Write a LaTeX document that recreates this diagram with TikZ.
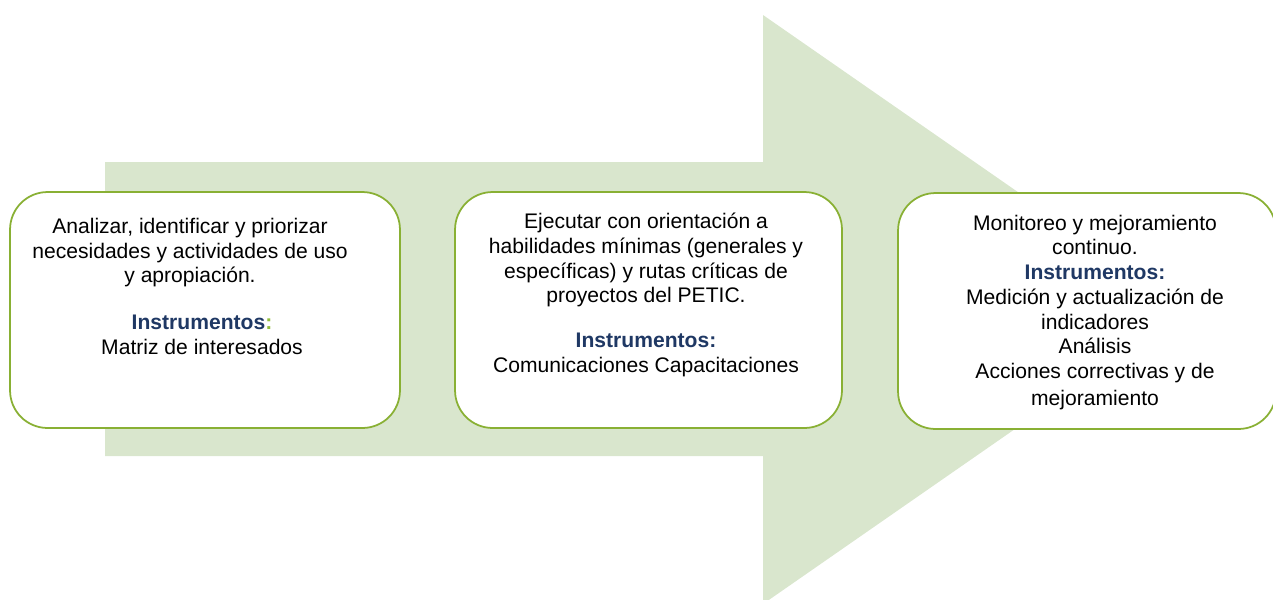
\documentclass[tikz,border=0pt]{standalone}
\usepackage{fontspec}
\setmainfont{Liberation Sans}
\definecolor{shaftgreen}{RGB}{217,230,205}
\definecolor{framegreen}{RGB}{137,176,52}
\definecolor{instrblue}{RGB}{31,56,100}
\definecolor{colongreen}{RGB}{146,190,60}

\begin{document}
\begin{tikzpicture}[x=0.02cm,y=-0.02cm,
        stage/.style={draw=framegreen, line width=1pt, fill=white, rounded corners=0.75cm,
            minimum width=#1, minimum height=4.72cm, inner sep=0pt},
        stagetext/.style={anchor=north, align=center, inner sep=0pt,
            font=\fontsize{12}{14}\selectfont}]
        \useasboundingbox (0,0) rectangle (1273,599);
        \clip (0,0) rectangle (1273,599);
        % big arrow behind the stages
        \fill[shaftgreen] (105,162) -- (763,162) -- (763,15) -- (1187,309.5)
            -- (763,604) -- (763,456) -- (105,456) -- cycle;
        % stages
        \node[stage=7.8cm] (analizar) at (205,310) {};
        \node[stage=7.74cm] (ejecutar) at (648.5,310) {};
        \node[stage=7.56cm] (monitoreo) at (1087,311) {};
        % texts
        \node[stagetext] (desc1) at (190,218)
            {Analizar, identificar y priorizar\\necesidades y actividades de uso\\y apropiación.};
        \node[stagetext] (instr1) at (202,315)
            {\textcolor{instrblue}{\textbf{Instrumentos}}\textcolor{colongreen}{\textbf{:}}\\Matriz de interesados};
        \node[stagetext] (desc2) at (646,213)
            {Ejecutar con orientación a\\habilidades mínimas (generales y\\específicas) y rutas críticas de\\proyectos del PETIC.};
        \node[stagetext] (instr2) at (646,333)
            {\textcolor{instrblue}{\textbf{Instrumentos:}}\\Comunicaciones Capacitaciones};
        \node[stagetext] (desc3) at (1095,214.5)
            {Monitoreo y mejoramiento\\continuo.};
        \node[stagetext] (instr3) at (1095,265)
            {\textcolor{instrblue}{\textbf{Instrumentos:}}\\Medición y actualización de\\indicadores\\Análisis\\Acciones correctivas y de\\[1.5pt]mejoramiento};
    \end{tikzpicture}
\end{document}
